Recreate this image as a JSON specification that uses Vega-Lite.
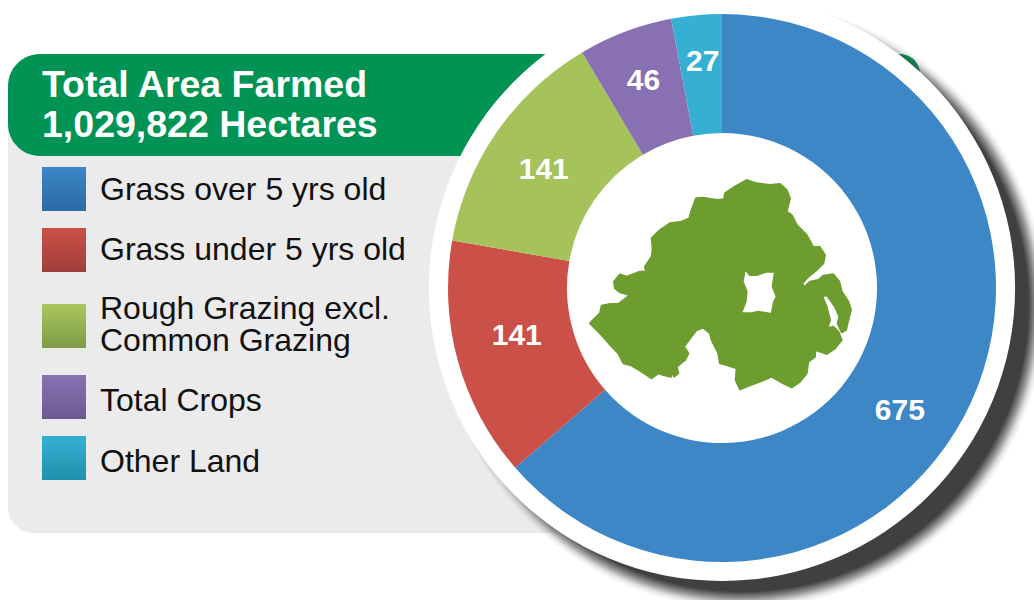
{
"$schema":"https://vega.github.io/schema/vega-lite/v6.json",
"width":1034,"height":600,"padding":0,
"autosize":{"type":"fit","contains":"padding"},
"background":"#ffffff",
"view":{"stroke":null},
"data":{"values":[
{"category":"Grass over 5 yrs old","thousand_ha":675,"rank":1,"sweep":229},
{"category":"Grass under 5 yrs old","thousand_ha":141,"rank":2,"sweep":51},
{"category":"Rough Grazing excl. Common Grazing","thousand_ha":141,"rank":3,"sweep":49.3},
{"category":"Total Crops","thousand_ha":46,"rank":4,"sweep":20},
{"category":"Other Land","thousand_ha":27,"rank":5,"sweep":10.7}
]},
"layer":[
{"data":{"values":[{}]},"mark":{"type":"rect","fill":"#ebebeb","cornerRadiusBottomLeft":26},
 "encoding":{"x":{"datum":8,"scale":{"domain":[0,1034],"nice":false,"zero":false},"axis":null},"x2":{"datum":640},"y":{"datum":110,"scale":{"domain":[0,600],"nice":false,"zero":false,"reverse":true},"axis":null},"y2":{"datum":533}}},
{"data":{"values":[{}]},"mark":{"type":"rect","fill":"#009354","cornerRadiusTopLeft":32,"cornerRadiusBottomLeft":32,"cornerRadiusTopRight":20},
 "encoding":{"x":{"datum":8},"x2":{"datum":920},"y":{"datum":54},"y2":{"datum":156}}},
{"data":{"values":[{}]},"mark":{"type":"text","align":"left","baseline":"alphabetic","fill":"#ffffff","font":"Liberation Sans","fontSize":37.5,"fontWeight":"bold","lineHeight":40,"text":["Total Area Farmed","1,029,822 Hectares"]},
 "encoding":{"x":{"datum":42},"y":{"datum":97}}},
{"data":{"values":[{}]},"mark":{"type":"arc","theta":0,"theta2":6.2832,"innerRadius":0,"outerRadius":320,"clip":true,
 "fill":{"gradient":"radial","x1":0.5,"y1":0.5,"r1":0,"x2":0.5,"y2":0.5,"r2":0.5,"stops":[{"offset":0,"color":"#404040"},{"offset":0.895,"color":"#404040"},{"offset":0.915,"color":"rgba(64,64,64,0.6)"},{"offset":0.935,"color":"rgba(64,64,64,0.15)"},{"offset":0.95,"color":"rgba(64,64,64,0)"},{"offset":1,"color":"rgba(64,64,64,0)"}]}},
 "encoding":{"x":{"datum":742},"y":{"datum":305}}},
{"data":{"values":[{}]},"mark":{"type":"arc","theta":0,"theta2":6.2832,"innerRadius":0,"outerRadius":293,"fill":"#ffffff","clip":true},
 "encoding":{"x":{"datum":722},"y":{"datum":288}}},
{"mark":{"type":"arc","innerRadius":0,"outerRadius":0},
 "encoding":{
  "x":{"datum":722},"y":{"datum":288},
  "theta":{"field":"sweep","type":"quantitative","stack":true,"scale":{"domain":[0,360]}},
  "order":{"field":"rank","type":"ordinal"},
  "fill":{"field":"category","type":"nominal","sort":["Grass over 5 yrs old","Grass under 5 yrs old","Rough Grazing excl. Common Grazing","Total Crops","Other Land"],
   "scale":{"domain":["Grass over 5 yrs old","Grass under 5 yrs old","Rough Grazing excl. Common Grazing","Total Crops","Other Land"],"range":[
     {"expr":"{gradient:'linear',x1:0,y1:0,x2:0,y2:1,stops:[{offset:0,color:'#3d87c7'},{offset:1,color:'#2a6aa5'}]}"},
     {"expr":"{gradient:'linear',x1:0,y1:0,x2:0,y2:1,stops:[{offset:0,color:'#cb5148'},{offset:1,color:'#9e3f3a'}]}"},
     {"expr":"{gradient:'linear',x1:0,y1:0,x2:0,y2:1,stops:[{offset:0,color:'#a9c75e'},{offset:1,color:'#7f9a47'}]}"},
     {"expr":"{gradient:'linear',x1:0,y1:0,x2:0,y2:1,stops:[{offset:0,color:'#8a72b3'},{offset:1,color:'#6b5a92'}]}"},
     {"expr":"{gradient:'linear',x1:0,y1:0,x2:0,y2:1,stops:[{offset:0,color:'#36b0d2'},{offset:1,color:'#1f90ad'}]}"}
   ]},
   "legend":{"orient":"none","legendX":42,"legendY":167,"title":null,"padding":0,"symbolType":"square","symbolSize":1936,"symbolStrokeWidth":0,"symbolOpacity":1,"rowPadding":17,"labelOffset":14,"labelFont":"Liberation Sans","labelFontSize":32,"labelColor":"#111111","labelLimit":400,
    "labelExpr":"datum.label==='Rough Grazing excl. Common Grazing'?['Rough Grazing excl.','Common Grazing']:datum.label",
    "encoding":{"labels":{"lineHeight":{"value":32},"y":{"value":{"expr":"datum.value==='Rough Grazing excl. Common Grazing'?20:datum.value==='Other Land'?20:datum.value==='Total Crops'?27:datum.value==='Grass over 5 yrs old'?23:22"}}},
     "symbols":{"y":{"value":{"expr":"datum.value==='Rough Grazing excl. Common Grazing'?37:datum.value==='Other Land'?16:datum.value==='Total Crops'?23:22"}}}}}
  }}},
{"mark":{"type":"arc","innerRadius":155,"outerRadius":274},
 "encoding":{
  "x":{"datum":722},"y":{"datum":288},
  "theta":{"field":"sweep","type":"quantitative","stack":true,"scale":{"domain":[0,360]}},
  "order":{"field":"rank","type":"ordinal"},
  "color":{"field":"category","type":"nominal",
   "scale":{"domain":["Grass over 5 yrs old","Grass under 5 yrs old","Rough Grazing excl. Common Grazing","Total Crops","Other Land"],"range":["#3d87c7","#cb5148","#a6c35b","#8970b2","#36b0d2"]},
   "legend":null}
  }},
{"mark":{"type":"text","font":"Liberation Sans","fontSize":30,"fontWeight":"bold","fill":"#ffffff","baseline":"middle",
   "radius":{"expr":"datum.thousand_ha===27?228:datum.thousand_ha===46?222:213"},
   "xOffset":{"expr":"datum.rank===1?-16:datum.rank===3?-3:datum.rank===5?2:0"},
   "yOffset":{"expr":"datum.rank===1?35:datum.rank===2?-9:datum.rank===3?3:1"}},
 "encoding":{
  "x":{"datum":722},"y":{"datum":288},
  "theta":{"field":"sweep","type":"quantitative","stack":true,"scale":{"domain":[0,360]}},
  "order":{"field":"rank","type":"ordinal"},
  "text":{"field":"thousand_ha","type":"quantitative"}}},
{"data":{"values":[{}]},"mark":{"type":"point","filled":true,"opacity":1,"fill":"#6e9d2f","stroke":"#6e9d2f","strokeWidth":2,"strokeJoin":"round","size":0.4444,
   "shape":"M530 60L560 70L600 75L630 72L650 90L660 115L650 155L665 165L680 195L710 225L730 262L748 260L765 285L760 310L740 330L715 350L697 370L703 382L720 365L745 360L760 347L790 343L808 365L815 395L835 425L843 450L835 480L828 510L815 517L803 490L808 470L795 440L770 405L757 410L770 440L780 480L772 505L790 500L805 515L815 540L795 565L770 582L750 575L735 570L735 590L715 605L710 640L690 665L665 682L640 670L605 650L570 665L530 680L510 688L497 660L500 625L470 615L450 610L445 580L425 540L420 520L400 503L380 510L360 535L342 560L355 580L345 600L320 620L325 640L312 650L308 630L303 650L280 645L265 640L245 655L215 635L185 617L160 610L145 580L125 560L95 525L60 490L90 460L95 437L120 432L145 432L180 405L150 397L135 385L132 365L150 343L170 350L210 335L228 335L225 320L245 290L248 265L245 235L270 210L300 190L335 185L358 175L365 150L378 115L400 113L440 120L462 118L465 100L495 80ZM525 327L518 365L530 395L527 425L513 460L545 460L565 455L605 462L612 425L620 410L608 380L615 335L590 335L560 345L540 345Z"},
 "encoding":{"x":{"datum":570},"y":{"datum":160}}}
]}
